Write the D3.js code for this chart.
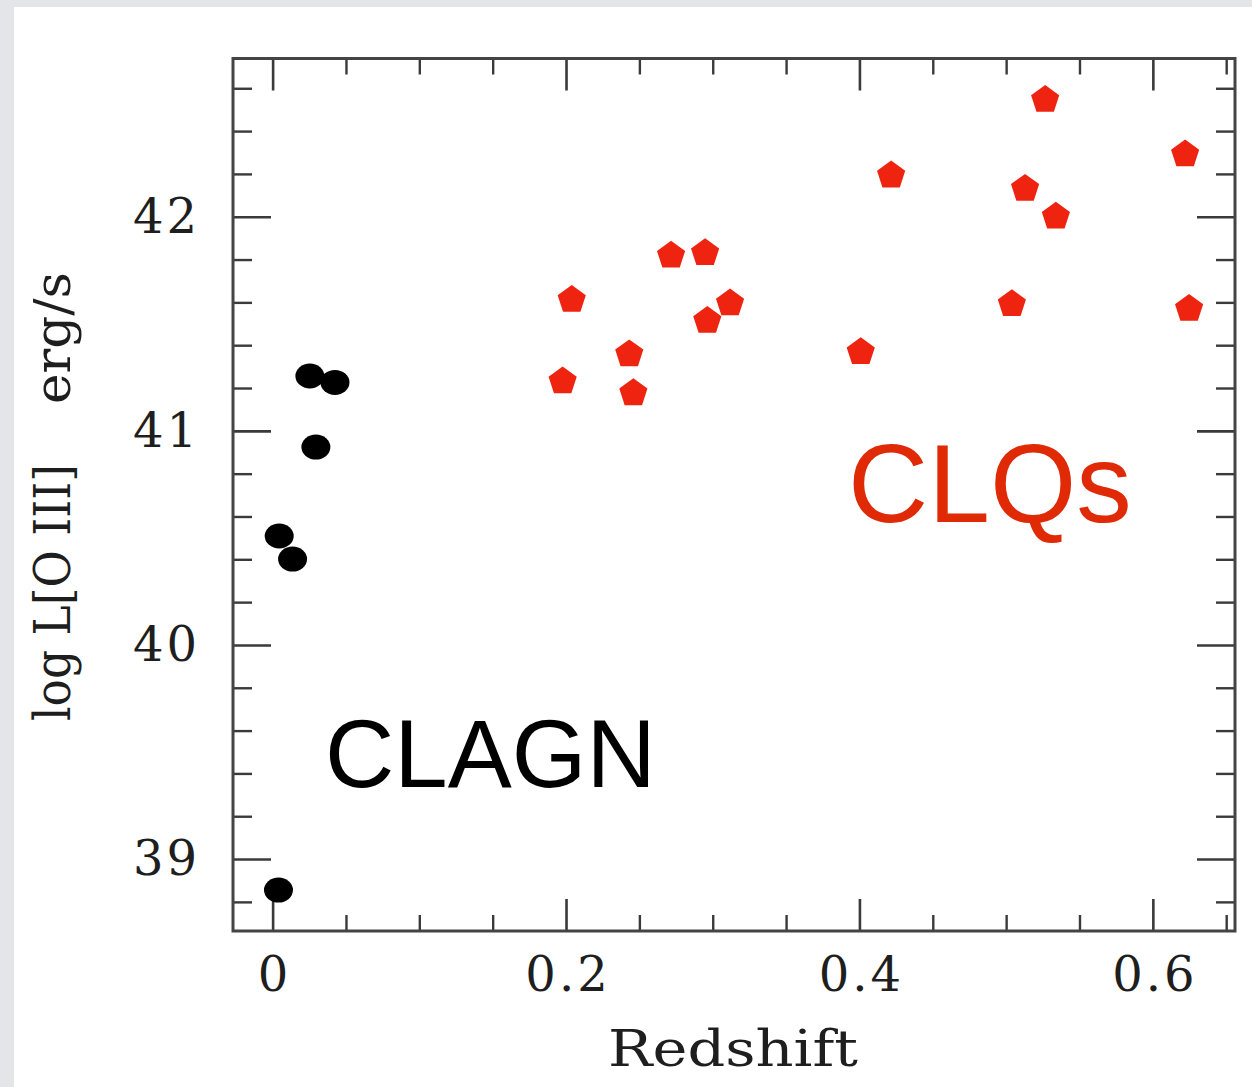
<!DOCTYPE html>
<html>
<head>
<meta charset="utf-8">
<script src="https://cdn.jsdelivr.net/npm/d3@7"></script>
<style>
  html, body { margin: 0; padding: 0; background: #e3e5e9; }
  svg { display: block; }
</style>
</head>
<body>
<svg id="chart" width="1252" height="1087"></svg>
<script>
// Changing-look AGN (nearby) — redshift vs. log L[O III]
const clagnRedshift = [0.004, 0.0045, 0.0136, 0.0254, 0.0425, 0.0295];
const clagnLogL     = [38.855, 40.509, 40.401, 41.256, 41.226, 40.924];

// Changing-look quasars
const clqRedshift = [0.2039, 0.1977, 0.2431, 0.2459, 0.2716, 0.2948, 0.2963, 0.3118,
                     0.4009, 0.4216, 0.5266, 0.5129, 0.5339, 0.5039, 0.622, 0.6247];
const clqLogL     = [41.612, 41.231, 41.358, 41.176, 41.819, 41.830, 41.514, 41.596,
                     41.368, 42.193, 42.546, 42.131, 42.001, 41.592, 42.292, 41.570];

// Axis ticks
const xMajorTicks = [0, 0.2, 0.4, 0.6];
const xMinorTicks = [0.05, 0.1, 0.15, 0.25, 0.3, 0.35, 0.45, 0.5, 0.55, 0.65];
const yMajorTicks = [39, 40, 41, 42];
const yMinorTicks = [38.8, 39.2, 39.4, 39.6, 39.8, 40.2, 40.4, 40.6, 40.8,
                     41.2, 41.4, 41.6, 41.8, 42.2, 42.4, 42.6];

const svg = d3.select("#chart");

// white sheet
svg.append("rect").attr("x", 14).attr("y", 7).attr("width", 1252 - 14).attr("height", 1087 - 7)
  .attr("fill", "#ffffff");

const plotLeft = 233, plotRight = 1235, plotTop = 58.5, plotBottom = 931;
const x = d3.scaleLinear().domain([-0.027, 0.656]).range([plotLeft, plotRight]);
const y = d3.scaleLinear().domain([38.664, 42.739]).range([plotBottom, plotTop]);

const tickColor = "#3a3a3a";
const serif = "'DejaVu Serif', serif";

function styleAxis(g, width) {
  g.select(".domain").remove();
  g.selectAll(".tick line").attr("stroke", tickColor).attr("stroke-width", width);
}

// bottom axis with labels
const xMaj = svg.append("g").attr("transform", `translate(0,${plotBottom})`)
  .call(d3.axisBottom(x).tickValues(xMajorTicks).tickSize(-32).tickPadding(26)
        .tickFormat(d => d === 0 ? "0" : d3.format(".1f")(d)));
styleAxis(xMaj, 2.6);
xMaj.selectAll("text").attr("font-family", serif).attr("font-size", 48)
  .attr("fill", "#1e1e1e").attr("letter-spacing", 3).attr("dx", 1.5);

svg.append("g").attr("transform", `translate(0,${plotBottom})`)
  .call(d3.axisBottom(x).tickValues(xMinorTicks).tickSize(-16).tickFormat(""))
  .call(g => styleAxis(g, 2.4));

// top axis
svg.append("g").attr("transform", `translate(0,${plotTop})`)
  .call(d3.axisTop(x).tickValues(xMajorTicks).tickSize(-32).tickFormat(""))
  .call(g => styleAxis(g, 2.6));
svg.append("g").attr("transform", `translate(0,${plotTop})`)
  .call(d3.axisTop(x).tickValues(xMinorTicks).tickSize(-16).tickFormat(""))
  .call(g => styleAxis(g, 2.4));

// left axis with labels
const yMaj = svg.append("g").attr("transform", `translate(${plotLeft},0)`)
  .call(d3.axisLeft(y).tickValues(yMajorTicks).tickSize(-38).tickPadding(33)
        .tickFormat(d3.format("d")));
styleAxis(yMaj, 2.6);
yMaj.selectAll("text").attr("font-family", serif).attr("font-size", 48)
  .attr("fill", "#1e1e1e").attr("letter-spacing", 3);

svg.append("g").attr("transform", `translate(${plotLeft},0)`)
  .call(d3.axisLeft(y).tickValues(yMinorTicks).tickSize(-19).tickFormat(""))
  .call(g => styleAxis(g, 2.4));

// right axis
svg.append("g").attr("transform", `translate(${plotRight},0)`)
  .call(d3.axisRight(y).tickValues(yMajorTicks).tickSize(-38).tickFormat(""))
  .call(g => styleAxis(g, 2.6));
svg.append("g").attr("transform", `translate(${plotRight},0)`)
  .call(d3.axisRight(y).tickValues(yMinorTicks).tickSize(-19).tickFormat(""))
  .call(g => styleAxis(g, 2.4));

// frame
svg.append("rect").attr("x", plotLeft).attr("y", plotTop)
  .attr("width", plotRight - plotLeft).attr("height", plotBottom - plotTop)
  .attr("fill", "none").attr("stroke", "#444").attr("stroke-width", 3);

// axis titles
svg.append("text").attr("x", 733).attr("y", 1066)
  .attr("text-anchor", "middle").attr("font-family", serif).attr("font-size", 50)
  .attr("fill", "#1e1e1e").attr("textLength", 250).attr("lengthAdjust", "spacingAndGlyphs")
  .text("Redshift");

// y title: quantity and unit, set apart by a wide gap
const yTitle = svg.append("g").attr("transform", "translate(70,0) rotate(-90)")
  .attr("font-family", serif).attr("font-size", 50).attr("fill", "#1e1e1e");
yTitle.append("text").attr("x", -721).attr("y", 0)
  .attr("textLength", 257).attr("lengthAdjust", "spacingAndGlyphs")
  .style("white-space", "pre").text("log L[O III]");
yTitle.append("text").attr("x", -404).attr("y", 0)
  .attr("textLength", 132).attr("lengthAdjust", "spacingAndGlyphs")
  .text("erg/s");

// pentagon symbol
const pentagon = {
  draw(context, size) {
    const r = Math.sqrt(size / 2.3776);
    for (let i = 0; i < 5; i++) {
      const a = -Math.PI / 2 + i * 2 * Math.PI / 5;
      const px = r * Math.cos(a), py = r * Math.sin(a);
      if (i === 0) context.moveTo(px, py); else context.lineTo(px, py);
    }
    context.closePath();
  }
};

const clq = clqRedshift.map((z, i) => ({ z, l: clqLogL[i] }));
const clagn = clagnRedshift.map((z, i) => ({ z, l: clagnLogL[i] }));

svg.append("g").selectAll("path").data(clq).join("path")
  .attr("transform", d => `translate(${x(d.z)},${y(d.l)})`)
  .attr("d", d3.symbol().type(pentagon).size(2.3776 * 14.8 * 14.8))
  .attr("fill", "#ee2410");

svg.append("g").selectAll("ellipse").data(clagn).join("ellipse")
  .attr("cx", d => x(d.z)).attr("cy", d => y(d.l))
  .attr("rx", 14.5).attr("ry", 12.5).attr("fill", "#000");

// group labels
svg.append("text").attr("x", 325).attr("y", 787)
  .attr("font-family", "'Liberation Sans', Arial, sans-serif").attr("font-size", 96)
  .attr("fill", "#000").text("CLAGN");
svg.append("text").attr("x", 848).attr("y", 522)
  .attr("font-family", "'Liberation Sans', Arial, sans-serif").attr("font-size", 111)
  .attr("fill", "#e02a06").text("CLQs");
</script>
</body>
</html>
